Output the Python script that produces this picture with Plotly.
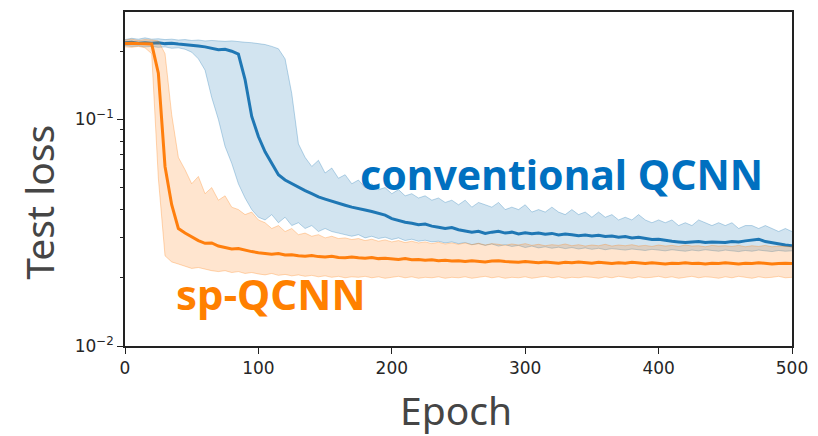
import plotly.graph_objects as go

# Epoch grid (every 5 epochs)
epochs = list(range(0, 501, 5))

# Conventional QCNN: mean test loss and min/max envelope
conv_mean = [
    0.218, 0.219, 0.217, 0.218, 0.217, 0.218, 0.216, 0.217, 0.215, 0.214,
    0.213, 0.211, 0.209, 0.206, 0.203, 0.204, 0.200, 0.194, 0.150, 0.103,
    0.084, 0.072, 0.064, 0.057, 0.054, 0.052, 0.050, 0.0485, 0.047, 0.0455,
    0.0445, 0.0435, 0.0425, 0.0418, 0.041, 0.0405, 0.0398, 0.0392, 0.0385, 0.0378,
    0.0365, 0.0358, 0.0352, 0.0348, 0.0343, 0.0345, 0.0338, 0.0334, 0.0330, 0.0333,
    0.0326, 0.0322, 0.0318, 0.0321, 0.0314, 0.0318, 0.0321, 0.0315, 0.0318, 0.0312,
    0.0316, 0.0313, 0.0315, 0.0311, 0.0314, 0.0309, 0.0312, 0.0310, 0.0307, 0.0309,
    0.0306, 0.0308, 0.0304, 0.0306, 0.0302, 0.0304, 0.0300, 0.0302, 0.0298, 0.0295,
    0.0296, 0.0292, 0.0290, 0.0288, 0.0286, 0.0288, 0.0289, 0.0286, 0.0288, 0.0287,
    0.0286, 0.0289, 0.0288, 0.0291, 0.0293, 0.0296, 0.0289, 0.0285, 0.0281, 0.0279,
    0.0277,
]
conv_hi = [
    0.225, 0.228, 0.226, 0.229, 0.226, 0.227, 0.225, 0.226, 0.224, 0.225,
    0.223, 0.224, 0.222, 0.223, 0.222, 0.221, 0.222, 0.220, 0.219, 0.218,
    0.216, 0.214, 0.210, 0.205, 0.185, 0.130, 0.078, 0.068, 0.062, 0.066,
    0.058, 0.061, 0.055, 0.057, 0.052, 0.054, 0.050, 0.052, 0.049, 0.050,
    0.047, 0.049, 0.046, 0.047, 0.045, 0.046, 0.044, 0.045, 0.043, 0.044,
    0.042, 0.044, 0.041, 0.043, 0.042, 0.041, 0.043, 0.040, 0.041, 0.040,
    0.042, 0.039, 0.040, 0.039, 0.041, 0.039, 0.038, 0.040, 0.038, 0.039,
    0.037, 0.039, 0.037, 0.038, 0.036, 0.037, 0.036, 0.038, 0.036, 0.035,
    0.036, 0.035, 0.036, 0.034, 0.035, 0.034, 0.036, 0.035, 0.034, 0.035,
    0.034, 0.035, 0.033, 0.034, 0.034, 0.033, 0.034, 0.033, 0.032, 0.033,
    0.032,
]
conv_lo = [
    0.212, 0.210, 0.211, 0.209, 0.210, 0.208, 0.209, 0.206, 0.207, 0.204,
    0.198, 0.185, 0.165, 0.125, 0.100, 0.076, 0.064, 0.052, 0.045, 0.040,
    0.037, 0.036, 0.038, 0.035, 0.037, 0.034, 0.035, 0.033, 0.034, 0.032,
    0.033, 0.032, 0.0315, 0.031, 0.0305, 0.031, 0.030, 0.0305, 0.0298, 0.0302,
    0.0295, 0.030, 0.0292, 0.0296, 0.029, 0.0293, 0.0288, 0.029, 0.0285, 0.0288,
    0.0283, 0.0286, 0.028, 0.0283, 0.0278, 0.0282, 0.0276, 0.028, 0.0275, 0.0278,
    0.0272, 0.0276, 0.0271, 0.0274, 0.0270, 0.0273, 0.0269, 0.0272, 0.0268, 0.0271,
    0.0267, 0.0270, 0.0266, 0.0269, 0.0267, 0.0265, 0.0268, 0.0266, 0.0264, 0.0267,
    0.0265, 0.0263, 0.0266, 0.0264, 0.0262, 0.0265, 0.0263, 0.0266, 0.0264, 0.0262,
    0.0265, 0.0263, 0.0261, 0.0264, 0.0262, 0.0265, 0.0263, 0.0261, 0.0264, 0.0262,
    0.0263,
]

# sp-QCNN: mean test loss and min/max envelope
sp_mean = [
    0.216, 0.217, 0.216, 0.216, 0.215, 0.160, 0.062, 0.042, 0.033, 0.0315,
    0.0302, 0.0292, 0.0284, 0.0285, 0.0276, 0.0272, 0.0268, 0.0269, 0.0264, 0.0261,
    0.0258, 0.0256, 0.0254, 0.0256, 0.0252, 0.0253, 0.0250, 0.0249, 0.0251, 0.0248,
    0.0247, 0.0249, 0.0246, 0.0245, 0.0247, 0.0245, 0.0244, 0.0246, 0.0243, 0.0244,
    0.0242, 0.0241, 0.0243, 0.0240, 0.0241, 0.0239, 0.0240, 0.0238, 0.0239, 0.0237,
    0.0238, 0.0236, 0.0238, 0.0237, 0.0235, 0.0237, 0.0238, 0.0236, 0.0235, 0.0234,
    0.0236, 0.0235, 0.0233, 0.0235, 0.0234, 0.0232, 0.0234, 0.0233, 0.0235, 0.0233,
    0.0232, 0.0234, 0.0233, 0.0231, 0.0233, 0.0232, 0.0234, 0.0232, 0.0231, 0.0233,
    0.0232, 0.0230, 0.0232, 0.0231, 0.0233, 0.0231, 0.0232, 0.0230, 0.0232, 0.0231,
    0.0233, 0.0231, 0.0230, 0.0232, 0.0231, 0.0233, 0.0232, 0.0230, 0.0231, 0.0232,
    0.0231,
]
sp_hi = [
    0.224, 0.226, 0.223, 0.225, 0.224, 0.222, 0.195, 0.105, 0.068, 0.060,
    0.052, 0.056, 0.047, 0.050, 0.044, 0.046, 0.041, 0.040, 0.038, 0.039,
    0.036, 0.035, 0.033, 0.034, 0.032, 0.033, 0.031, 0.0315, 0.0305, 0.031,
    0.030, 0.0305, 0.0298, 0.030, 0.0295, 0.0298, 0.0292, 0.0296, 0.029, 0.0294,
    0.0288, 0.0292, 0.0286, 0.029, 0.0285, 0.0288, 0.0283, 0.0287, 0.0282, 0.0285,
    0.0281, 0.0285, 0.0280, 0.0284, 0.0279, 0.0283, 0.0281, 0.0278, 0.0282, 0.0279,
    0.0283, 0.0278, 0.0281, 0.0277, 0.0280, 0.0278, 0.0282, 0.0277, 0.0280, 0.0276,
    0.0279, 0.0277, 0.0281, 0.0276, 0.0279, 0.0277, 0.0280, 0.0276, 0.0278, 0.0275,
    0.0279, 0.0276, 0.0278, 0.0275, 0.0279, 0.0276, 0.0277, 0.0274, 0.0278, 0.0276,
    0.0277, 0.0275, 0.0278, 0.0274, 0.0277, 0.0275, 0.0278, 0.0274, 0.0276, 0.0275,
    0.0274,
]
sp_lo = [
    0.209, 0.208, 0.210, 0.207, 0.195, 0.055, 0.025, 0.0235, 0.023, 0.0225,
    0.022, 0.0222, 0.0218, 0.0215, 0.0213, 0.0215, 0.0211, 0.0213, 0.0209, 0.0211,
    0.0208, 0.0206, 0.0209, 0.0205, 0.0207, 0.0204, 0.0206, 0.0203, 0.0205, 0.0202,
    0.0204, 0.0201, 0.0203, 0.0200, 0.0202, 0.0201, 0.0203, 0.0200, 0.0202, 0.0199,
    0.0201, 0.0203, 0.0200, 0.0202, 0.0199, 0.0201, 0.0200, 0.0202, 0.0199, 0.0201,
    0.0200, 0.0202, 0.0199, 0.0201, 0.0203, 0.0200, 0.0202, 0.0199, 0.0201, 0.0200,
    0.0202, 0.0199, 0.0201, 0.0203, 0.0200, 0.0202, 0.0199, 0.0201, 0.0200, 0.0202,
    0.0201, 0.0199, 0.0202, 0.0200, 0.0203, 0.0201, 0.0199, 0.0202, 0.0200, 0.0201,
    0.0203, 0.0200, 0.0202, 0.0199, 0.0201, 0.0203, 0.0200, 0.0202, 0.0201, 0.0199,
    0.0202, 0.0200, 0.0203, 0.0201, 0.0199, 0.0202, 0.0200, 0.0201, 0.0203, 0.0200,
    0.0201,
]

x_ticks = [0, 100, 200, 300, 400, 500]
y_ticks = [0.01, 0.1]
y_tick_text = ["10<sup>\u22122</sup>", "10<sup>\u22121</sup>"]
y_minor = [0.02, 0.03, 0.04, 0.05, 0.06, 0.07, 0.08, 0.09, 0.2]

BLUE = (31, 119, 180)
ORANGE = (255, 127, 14)


def rgba(c, a):
    return f"rgba({c[0]},{c[1]},{c[2]},{a})"


fig = go.Figure()


def add_series(lo, hi, mean, color):
    fig.add_trace(go.Scatter(x=epochs, y=lo, mode="lines",
                             line=dict(color=rgba(color, 0.3), width=1),
                             hoverinfo="skip", showlegend=False))
    fig.add_trace(go.Scatter(x=epochs, y=hi, mode="lines", fill="tonexty",
                             fillcolor=rgba(color, 0.2),
                             line=dict(color=rgba(color, 0.3), width=1),
                             hoverinfo="skip", showlegend=False))
    fig.add_trace(go.Scatter(x=epochs, y=mean, mode="lines",
                             line=dict(color=rgba(color, 1), width=3),
                             showlegend=False))


add_series(conv_lo, conv_hi, conv_mean, BLUE)
add_series(sp_lo, sp_hi, sp_mean, ORANGE)

tick_font = dict(family="DejaVu Sans", size=17, color="#262626")
title_font = dict(family="Noto Sans", size=39, color="#454545")

fig.update_layout(
    width=818, height=436,
    margin=dict(l=125, r=18, t=10, b=90),
    paper_bgcolor="white", plot_bgcolor="white",
    xaxis=dict(range=[0, 500], tickvals=x_ticks, ticks="outside", ticklen=6,
               tickwidth=1.2, tickcolor="#222", showline=True, linecolor="#222",
               linewidth=1.5, mirror=True, showgrid=False, zeroline=False,
               tickfont=tick_font),
    yaxis=dict(type="log", range=[-2, -0.526], tickvals=y_ticks,
               ticktext=y_tick_text, ticks="outside", ticklen=6, tickwidth=1.2,
               tickcolor="#222", showline=True, linecolor="#222", linewidth=1.5,
               mirror=True, showgrid=False, zeroline=False, tickfont=tick_font,
               minor=dict(tickvals=y_minor, ticks="outside", ticklen=3.5,
                          tickwidth=1, tickcolor="#222", showgrid=False)),
    annotations=[
        dict(text="conventional QCNN", xref="paper", yref="paper",
             x=0.350, y=0.515, xanchor="left", yanchor="middle",
             showarrow=False,
             font=dict(family="Noto Sans", size=41, color="#0070C0",
                       weight="bold")),
        dict(text="sp-QCNN", xref="paper", yref="paper",
             x=0.073, y=0.158, xanchor="left", yanchor="middle",
             showarrow=False,
             font=dict(family="Noto Sans", size=42, color="#FF8000",
                       weight="bold")),
        dict(text="Test loss", xref="paper", yref="paper",
             x=-0.13, y=0.43, xanchor="center", yanchor="middle",
             textangle=-90, showarrow=False, font=title_font),
        dict(text="Epoch", xref="paper", yref="paper",
             x=0.496, y=-0.19, xanchor="center", yanchor="middle",
             showarrow=False, font=title_font),
    ],
)

fig.write_html("out.html")
